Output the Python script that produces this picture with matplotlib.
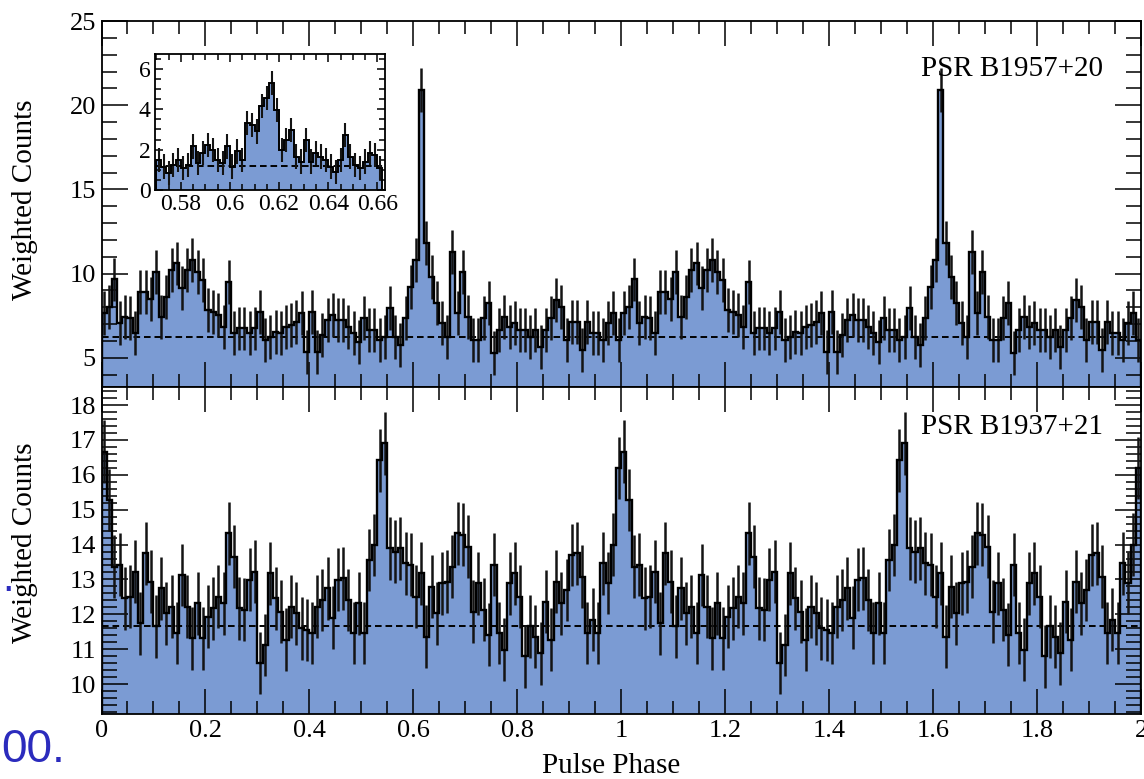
import numpy as np
import matplotlib
matplotlib.use("Agg")
import matplotlib.pyplot as plt
from matplotlib.ticker import MultipleLocator, FuncFormatter

plt.rcParams['font.family'] = ['Liberation Serif', 'DejaVu Serif']

# ---------------- data (one rotation, 100 phase bins; plotted over 2 rotations) -------------
n_cycles = 2
bins_per_cycle = 100

# PSR B1957+20 weighted counts per phase bin
top_cycle = [7.64, 8.03, 9.65, 7.04, 7.44, 7.34, 6.45, 8.92, 8.92, 8.50,
             10.11, 7.44, 8.62, 10.2, 10.6, 9.12, 10.2, 10.8, 10.11, 9.6,
             7.83, 7.73, 7.54, 6.84, 9.51, 6.45, 6.74, 6.74, 6.45, 6.74,
             7.73, 6.05, 6.25, 6.54, 6.45, 6.84, 6.94, 7.14, 7.64, 5.36,
             7.73, 5.36, 6.35, 7.24, 7.54, 7.24, 7.24, 6.84, 6.45, 5.95,
             7.34, 6.64, 6.64, 6.05, 6.25, 7.93, 6.25, 5.75, 7.34, 9.22,
             10.8, 20.9, 11.8, 9.81, 8.23, 7.04, 6.25, 11.3, 7.64, 10.1,
             7.44, 6.05, 6.05, 7.34, 8.23, 5.26, 6.64, 7.44, 6.84, 7.04,
             6.64, 6.64, 6.25, 6.64, 5.65, 6.64, 7.34, 8.43, 8.03, 6.05,
             7.14, 7.14, 5.46, 7.14, 6.45, 6.45, 6.05, 7.04, 7.64, 6.05]

# PSR B1937+21 weighted counts per phase bin
bottom_cycle = [16.66, 15.28, 13.37, 13.42, 12.46, 12.51, 13.22, 11.74, 13.75, 12.94,
                11.65, 12.75, 12.03, 12.22, 11.46, 13.13, 12.22, 11.31, 12.32, 11.31,
                11.93, 12.17, 12.51, 12.32, 14.32, 13.65, 12.17, 12.13, 12.99, 13.22,
                10.60, 11.12, 13.18, 12.46, 12.08, 11.27, 12.22, 12.03, 11.60, 11.55,
                11.46, 12.22, 12.41, 12.75, 11.90, 12.99, 13.03, 12.41, 11.46, 12.32,
                11.46, 13.56, 13.99, 16.42, 16.90, 13.89, 13.80, 13.89, 13.46, 13.42,
                12.51, 13.18, 11.36, 12.79, 12.03, 12.89, 12.94, 13.37, 14.32, 14.28,
                13.94, 12.08, 12.89, 12.13, 11.41, 13.42, 11.46, 10.98, 12.89, 13.18,
                12.51, 10.79, 11.65, 11.36, 10.88, 12.36, 11.27, 12.94, 12.32, 12.70,
                13.70, 13.75, 13.08, 11.46, 11.84, 11.46, 13.46, 12.90, 14.00, 16.20]

# inset: fine-binned B1957+20 main peak
inset_start = 0.570
inset_binwidth = 0.002
inset_vals = [1.49, 1.16, 0.83, 1.24, 1.49, 1.08, 1.24, 2.16, 1.33, 1.82,
              2.24, 1.99, 1.49, 1.33, 2.16, 1.16, 1.91, 1.49, 3.32, 3.23,
              2.90, 4.15, 4.56, 5.31, 3.98, 1.99, 2.49, 2.99, 1.66, 1.41,
              2.49, 1.41, 1.82, 1.66, 1.49, 1.16, 0.91, 1.49, 2.74, 1.66,
              1.24, 1.08, 1.41, 1.82, 1.74, 1.08]

top_background = 6.21
bottom_background = 11.67
inset_background = 1.19
top_err = 1.3
bottom_err = 0.9
inset_err = 0.6

top_label = "PSR B1957+20"
bottom_label = "PSR B1937+21"
xlabel = "Pulse Phase"
ylabel = "Weighted Counts"

# ---------------- styling ----------------
FILL = '#7b9bd3'
W, H = 1144, 779

fig = plt.figure(figsize=(W / 100, H / 100), dpi=100)


def fx(px):
    return px / W


def fy(py):
    return 1 - py / H


ax1 = fig.add_axes([fx(101.5), fy(387), fx(1141) - fx(101.5), fy(21) - fy(387)])
ax2 = fig.add_axes([fx(101.5), fy(714), fx(1141) - fx(101.5), fy(387) - fy(714)])


def draw_hist(ax, edges, vals, err, level, lw=1.7, elw=1.8):
    vals = np.asarray(vals, dtype=float)
    centers = 0.5 * (edges[:-1] + edges[1:])
    ax.stairs(vals, edges, fill=True, facecolor=FILL, edgecolor='none', lw=0, zorder=1)
    ax.axhline(level, color='black', lw=1.4, ls=(0, (3.4, 2.0)), zorder=2)
    ax.errorbar(centers, vals, yerr=err, fmt='none', ecolor='#141414',
                elinewidth=elw, capsize=0, zorder=3)
    ax.stairs(vals, edges, color='black', lw=lw, zorder=4)


edges_main = np.linspace(0, n_cycles, n_cycles * bins_per_cycle + 1)
draw_hist(ax1, edges_main, np.tile(top_cycle, n_cycles), top_err, top_background)
draw_hist(ax2, edges_main, np.tile(bottom_cycle, n_cycles), bottom_err, bottom_background)

fmt = FuncFormatter(lambda v, p: '%g' % round(v, 4))

for ax in (ax1, ax2):
    ax.set_xlim(0, 2)
    ax.xaxis.set_major_locator(MultipleLocator(0.2))
    ax.xaxis.set_minor_locator(MultipleLocator(0.05))
    ax.xaxis.set_major_formatter(fmt)
    ax.tick_params(axis='x', which='major', direction='in', top=True, bottom=True,
                   length=18, width=1.1, labelsize=19, pad=4)
    ax.tick_params(axis='x', which='minor', direction='in', top=True, bottom=True,
                   length=9.5, width=1.1)
    ax.tick_params(axis='y', which='major', direction='in', left=True, right=True,
                   length=19, width=1.1, labelsize=19, pad=4)
    ax.tick_params(axis='y', which='minor', direction='in', left=True, right=True,
                   length=11, width=1.1)
    for s in ax.spines.values():
        s.set_linewidth(1.3)

ax1.set_ylim(3.26, 25.0)
ax1.yaxis.set_major_locator(MultipleLocator(5))
ax1.yaxis.set_minor_locator(MultipleLocator(1))
ax1.tick_params(axis='x', labelbottom=False)
ax1.set_yticks([5, 10, 15, 20, 25])

ax2.set_ylim(9.14, 18.52)
ax2.yaxis.set_major_locator(MultipleLocator(1))
ax2.yaxis.set_minor_locator(MultipleLocator(0.2))

ax1.text(fx(1103), fy(69), top_label, transform=fig.transFigure, ha='right',
         va='center', fontsize=21)
ax2.text(fx(1103), fy(427), bottom_label, transform=fig.transFigure, ha='right',
         va='center', fontsize=21)

fig.text(fx(25), fy(200), ylabel, rotation=90, ha='center', va='center', fontsize=21)
fig.text(fx(25), fy(543), ylabel, rotation=90, ha='center', va='center', fontsize=21)
fig.text(fx(611), fy(773), xlabel, ha='center', va='baseline', fontsize=21)

# ---------------- inset ----------------
axi = fig.add_axes([fx(155), fy(190), fx(385) - fx(155), fy(54) - fy(190)])
axi.set_facecolor('white')
edges_in = inset_start + inset_binwidth * np.arange(len(inset_vals) + 1)
draw_hist(axi, edges_in, inset_vals, inset_err, inset_background, lw=1.4, elw=1.5)
axi.set_xlim(0.5695, 0.6631)
axi.set_ylim(0, 6.74)
axi.xaxis.set_major_locator(MultipleLocator(0.02))
axi.xaxis.set_minor_locator(MultipleLocator(0.005))
axi.xaxis.set_major_formatter(fmt)
axi.yaxis.set_major_locator(MultipleLocator(2))
axi.yaxis.set_minor_locator(MultipleLocator(0.5))
axi.tick_params(which='major', direction='in', top=True, right=True, length=6,
                width=1.1, labelsize=17, pad=3)
axi.tick_params(which='minor', direction='in', top=True, right=True, length=4, width=1.1)
for s in axi.spines.values():
    s.set_linewidth(1.3)

# stray slide text at the left margin
fig.text(fx(1), fy(762), "00.", color='#2b2bbd', fontsize=33,
         family=['Liberation Sans', 'DejaVu Sans'], ha='left', va='baseline')
fig.text(fx(2), fy(591), ".", color='#2b2bbd', fontsize=30,
         family=['Liberation Sans', 'DejaVu Sans'], ha='left', va='baseline')

fig.savefig('out.png', dpi=100)
